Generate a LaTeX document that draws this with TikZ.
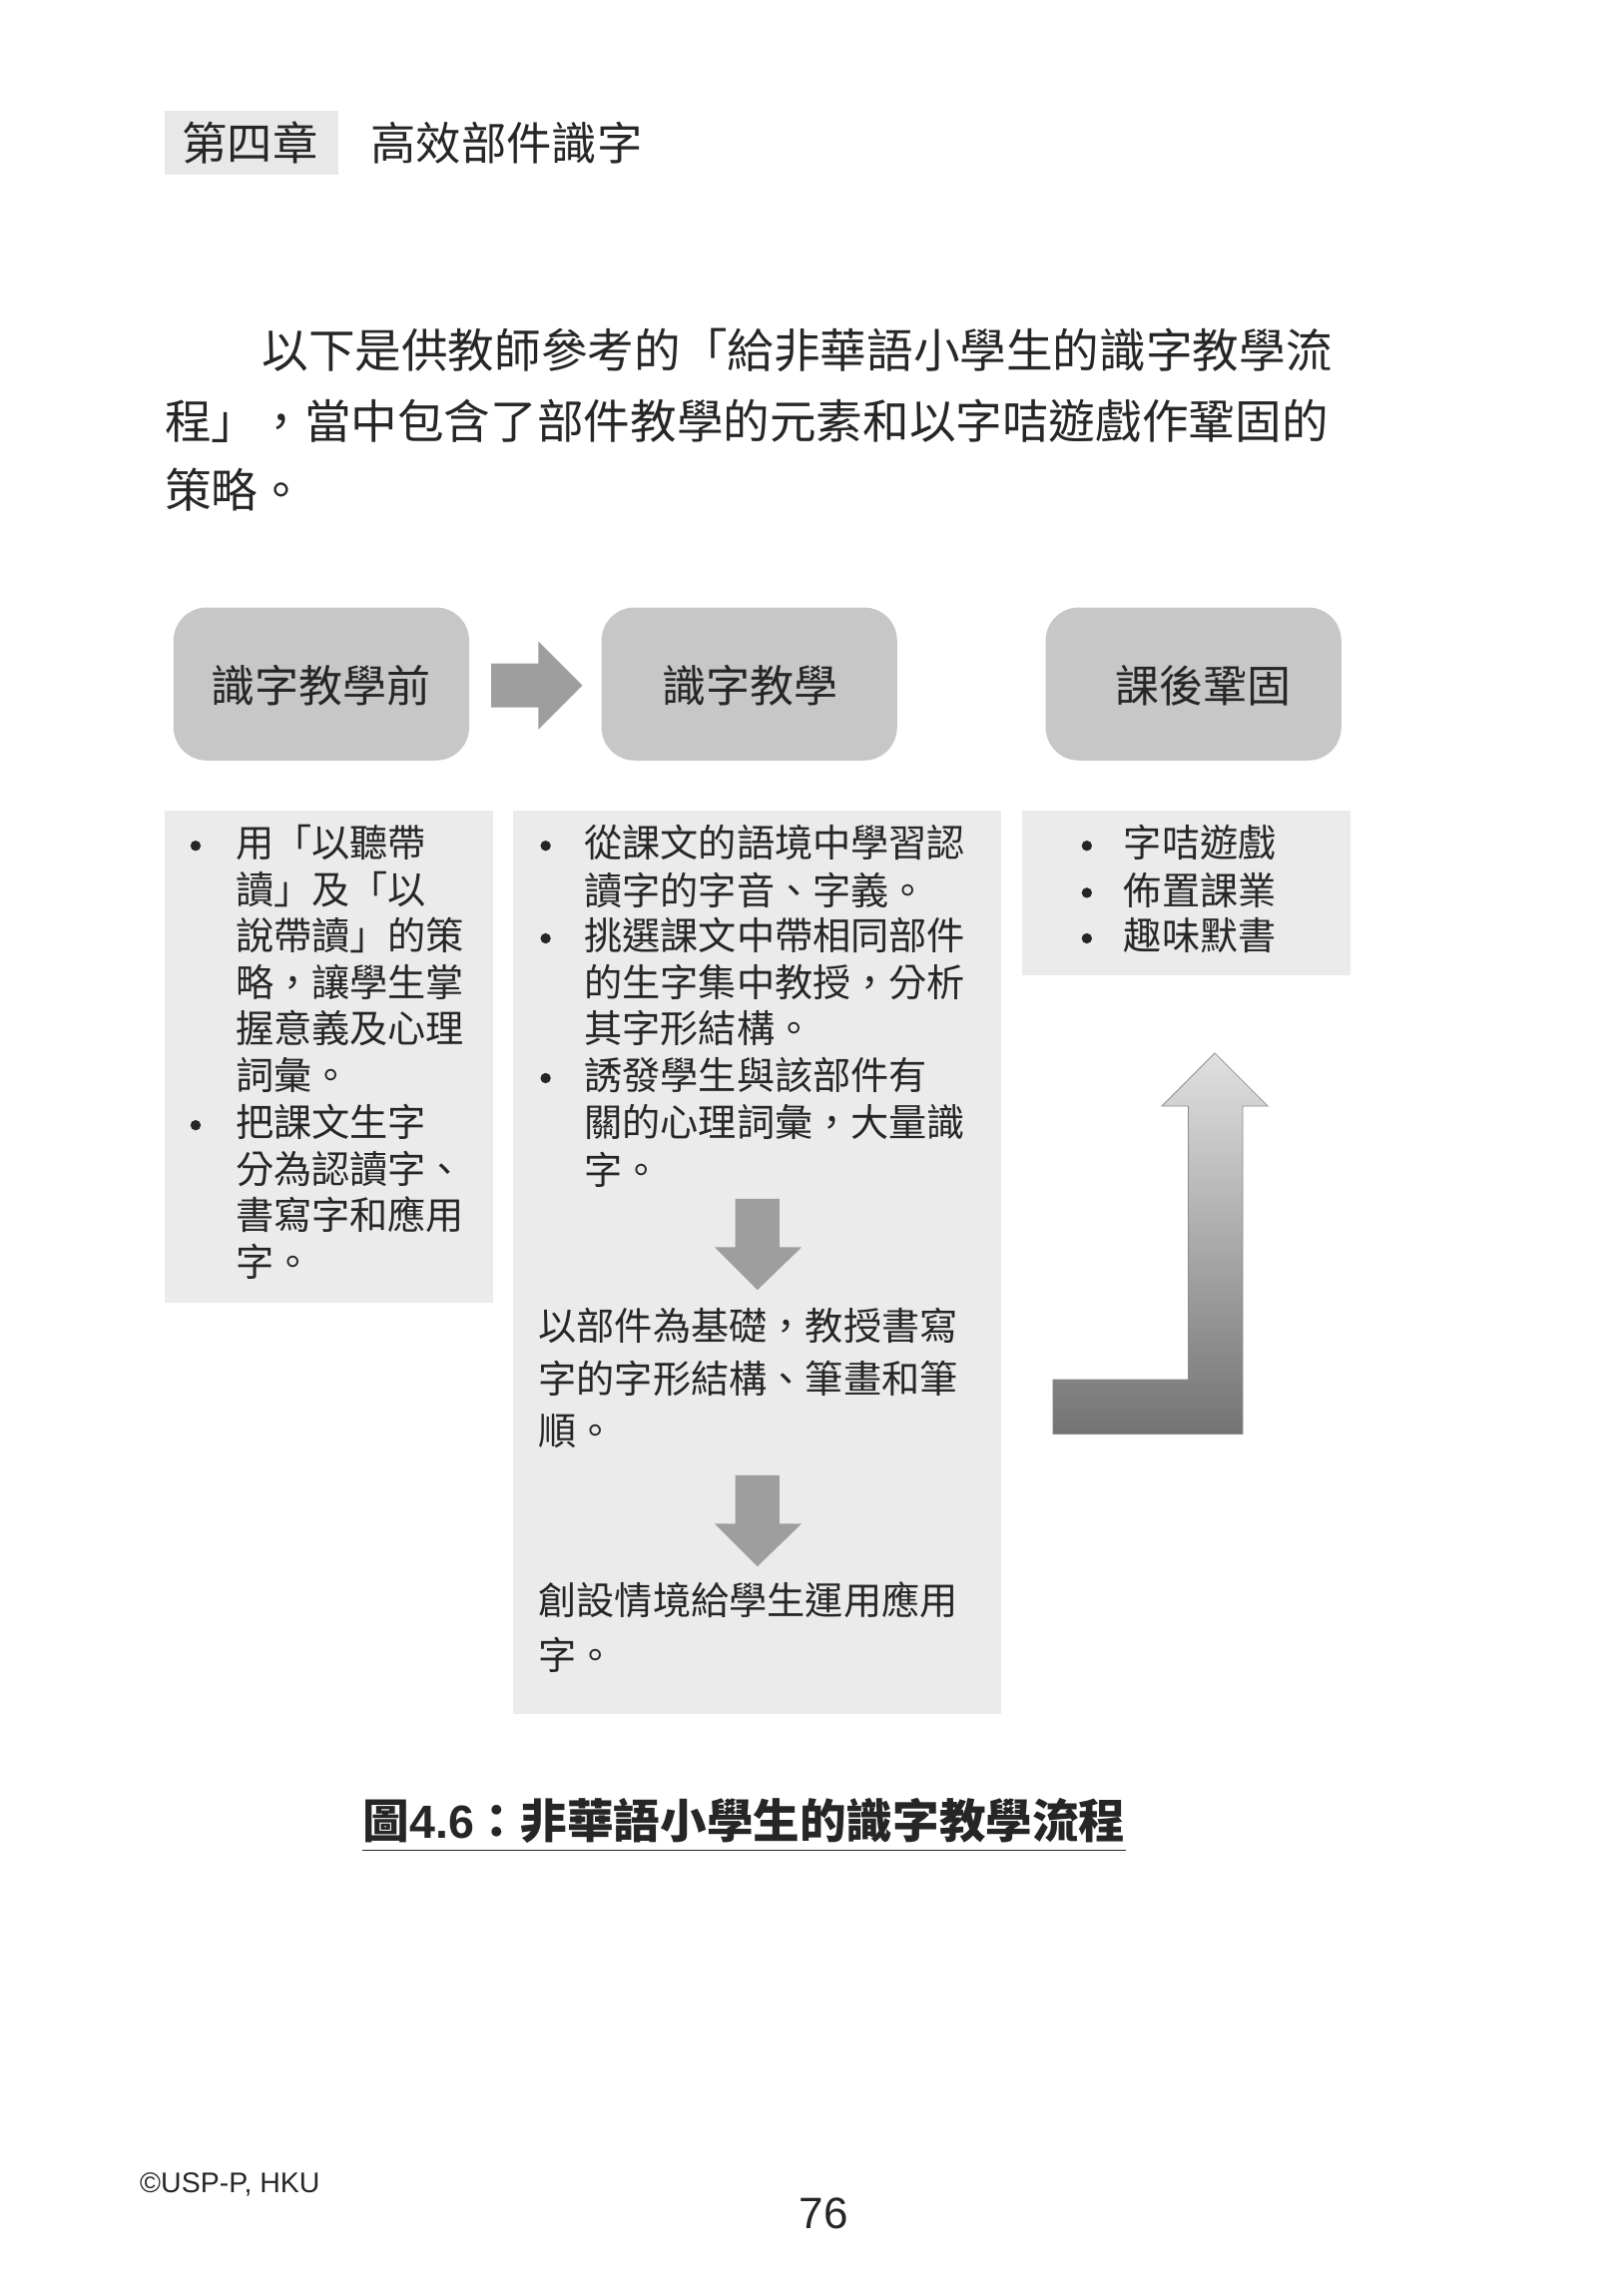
\documentclass[tikz,border=0pt]{standalone}
\usepackage{fontspec}
\setmainfont{Noto Sans CJK TC}
\newfontfamily\latinf{Liberation Sans}
\begin{document}
\begin{tikzpicture}[x=0.04cm,y=-0.04cm,
  every node/.style={inner sep=0pt,text=black!85},
  lbl/.style={anchor=west,font=\fontsize{29.5}{30}\selectfont},
  bul/.style={circle,fill=black!85,minimum size=8pt},
  rbox/.style={fill=black!22,rounded corners=0.9cm},
  panel/.style={fill=black!8}]
\useasboundingbox (0,0) rectangle (1100,1561);
% header
\fill[black!9] (112,75) rectangle (230,119);
\node (ch) at (170,97) {\fontsize{35}{36}\selectfont 第四章};
\node[anchor=west] (title) at (252,97) {\fontsize{35}{36}\selectfont 高效部件識字};
% paragraph
\node[anchor=west] (p1) at (178,238) {\fontsize{36}{37}\selectfont 以下是供教師參考的「給非華語小學生的識字教學流};
\node[anchor=west] (p2) at (112,286) {\fontsize{36}{37}\selectfont 程」，當中包含了部件教學的元素和以字咭遊戲作鞏固的};
\node[anchor=west] (p3) at (112,333) {\fontsize{36}{37}\selectfont 策略。};
% top boxes
\fill[rbox] (118,413) rectangle (319,517);
\fill[rbox] (409,413) rectangle (610,517);
\fill[rbox] (711,413) rectangle (912,517);
\node (b1) at (218,466) {\fontsize{34}{35}\selectfont 識字教學前};
\node (b2) at (510,466) {\fontsize{34}{35}\selectfont 識字教學};
\node (b3) at (818,466) {\fontsize{34}{35}\selectfont 課後鞏固};
\fill[fill=black!38] (334,451) -- (366,451) -- (366,436) -- (396,466) -- (366,496) -- (366,481) -- (334,481) -- cycle;
% panels
\fill[panel] (112,551) rectangle (335,886);
\fill[panel] (349,551) rectangle (681,1165);
\fill[panel] (695,551) rectangle (918,663);
% col1
\node[bul] at (133,575) {}; \node[bul] at (133,765) {};
\foreach \t/\y in {用「以聽帶/573,讀」及「以/605,說帶讀」的策/636,略，讓學生掌/668,握意義及心理/699,詞彙。/731,把課文生字/763,分為認讀字、/795,書寫字和應用/826,字。/858}
  \node[lbl] at (160,\y) {\t};
% col2
\node[bul] at (371,575) {}; \node[bul] at (371,638) {}; \node[bul] at (371,733) {};
\foreach \t/\y in {從課文的語境中學習認/573,讀字的字音、字義。/605,挑選課文中帶相同部件/636,的生字集中教授，分析/668,其字形結構。/699,誘發學生與該部件有/731,關的心理詞彙，大量識/763,字。/795}
  \node[lbl] at (397,\y) {\t};
\fill[black!38] (500,815) -- (530,815) -- (530,848) -- (545,848) -- (515,877) -- (486,848) -- (500,848) -- cycle;
\foreach \t/\y in {以部件為基礎，教授書寫/901,字的字形結構、筆畫和筆/937,順。/973}
  \node[lbl] at (366,\y) {\t};
\fill[black!38] (500,1003) -- (530,1003) -- (530,1036) -- (545,1036) -- (515,1065) -- (486,1036) -- (500,1036) -- cycle;
\foreach \t/\y in {創設情境給學生運用應用/1088,字。/1125}
  \node[lbl] at (366,\y) {\t};
% col3
\foreach \t/\y in {字咭遊戲/573,佈置課業/605,趣味默書/636}
  {\node[bul] at (739,\y+2) {}; \node[lbl] at (764,\y) {\t};}
% L arrow
\shade[top color=black!12,bottom color=black!55,draw=black!45,line width=0.6pt]
 (716,938) -- (808,938) -- (808,752) -- (790,752) -- (826,716) -- (862,752) -- (845,752) -- (845,975) -- (716,975) -- cycle;
% caption
\node (cap) at (506,1238) {\fontsize{36}{37}\selectfont\bfseries 圖{\latinf 4.6}：非華語小學生的識字教學流程};
\draw[black!85,line width=1.2pt] (cap.west |- 0,1258) -- (cap.east |- 0,1258);
% footer
\node[anchor=west] (cp) at (95,1485) {\latinf\fontsize{22}{23}\selectfont ©USP-P, HKU};
\node (pg) at (560,1505) {\latinf\fontsize{34}{35}\selectfont 76};
\end{tikzpicture}
\end{document}
